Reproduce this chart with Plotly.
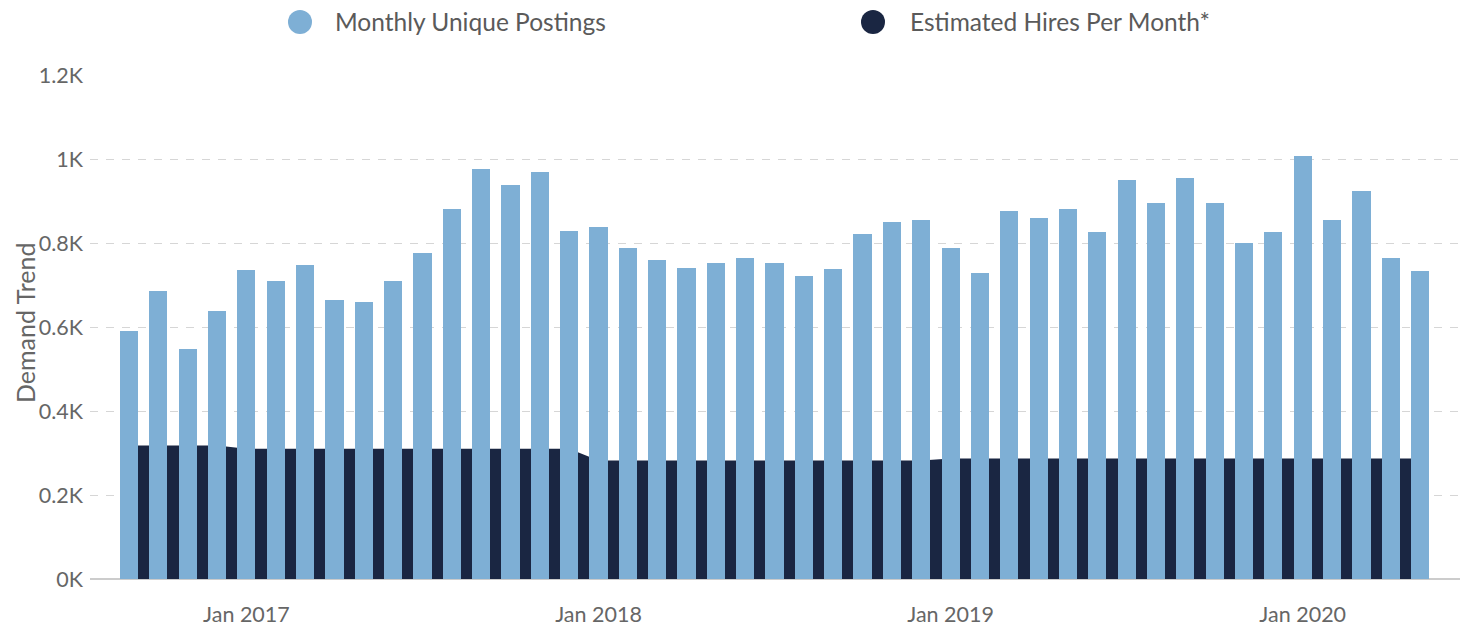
import plotly.graph_objects as go

months = [
    "2016-09", "2016-10", "2016-11", "2016-12",
    "2017-01", "2017-02", "2017-03", "2017-04", "2017-05", "2017-06",
    "2017-07", "2017-08", "2017-09", "2017-10", "2017-11", "2017-12",
    "2018-01", "2018-02", "2018-03", "2018-04", "2018-05", "2018-06",
    "2018-07", "2018-08", "2018-09", "2018-10", "2018-11", "2018-12",
    "2019-01", "2019-02", "2019-03", "2019-04", "2019-05", "2019-06",
    "2019-07", "2019-08", "2019-09", "2019-10", "2019-11", "2019-12",
    "2020-01", "2020-02", "2020-03", "2020-04", "2020-05",
]
postings = [
    590, 686, 548, 638,
    736, 710, 748, 664, 660, 710, 776, 881, 976, 938, 969, 829,
    838, 788, 760, 740, 752, 764, 752, 721, 738, 821, 850, 855,
    788, 729, 876, 860, 881, 826, 950, 895, 955, 895, 800, 826,
    1007, 855, 924, 764, 733,
]
hires = (
    [318] * 4
    + [310] * 12
    + [282] * 12
    + [287] * 17
)
y_tickvals = [0, 200, 400, 600, 800, 1000, 1200]
y_ticktext = ["0K", "0.2K", "0.4K", "0.6K", "0.8K", "1K", "1.2K"]
series_names = ["Monthly Unique Postings", "Estimated Hires Per Month*"]
y_title = "Demand Trend"

LIGHT = "#7eafd5"
DARK = "#1a2642"
FONT = "Lato, 'Open Sans', sans-serif"
TXT = "#666666"

x = list(range(len(months)))
jan_idx = [i for i, m in enumerate(months) if m.endswith("-01")]
jan_text = ["Jan " + months[i][:4] for i in jan_idx]
x_range = [-1.33, len(months) - 1 + 1.36]
y_range = [0, 1200]

fig = go.Figure()
# area on the base axes (drawn underneath)
fig.add_trace(go.Scatter(
    x=x, y=hires, mode="lines", line=dict(width=0, color=DARK),
    fill="tozeroy", fillcolor=DARK, showlegend=False, hoverinfo="skip",
    name=series_names[1], xaxis="x", yaxis="y",
))
# bars on overlay axes (drawn above the area)
fig.add_trace(go.Bar(
    x=x, y=postings, marker=dict(color=LIGHT, line=dict(width=0)),
    width=0.62, showlegend=False, name=series_names[0],
    xaxis="x2", yaxis="y2",
))

# figure geometry (page has an 8px body margin)
W, H = 1455, 619
plot_l, plot_r, plot_t, plot_b = 82, 1452, 67, 571
pw = plot_r - plot_l
ph = plot_b - plot_t
def px_x(p):
    return (p - plot_l) / pw
def px_y(p):
    return (plot_b - p) / ph

legend_items = [(292, 325, LIGHT, series_names[0]), (865, 900, DARK, series_names[1])]
for cx, tx, col, name in legend_items:
    fig.add_shape(
        type="circle", xref="paper", yref="paper",
        xsizemode="pixel", ysizemode="pixel",
        xanchor=px_x(cx), yanchor=px_y(14),
        x0=-12, x1=12, y0=-12, y1=12,
        fillcolor=col, line=dict(width=0),
    )
    fig.add_annotation(
        xref="paper", yref="paper", x=px_x(tx), y=px_y(14),
        xanchor="left", yanchor="middle", showarrow=False,
        text=name, font=dict(family=FONT, size=24.5, color="#5a5a5a"),
    )

fig.add_annotation(
    xref="paper", yref="paper", x=px_x(0), y=px_y(315),
    xanchor="left", yanchor="middle", showarrow=False, textangle=-90,
    text=y_title, font=dict(family=FONT, size=25, color=TXT),
)

fig.update_layout(
    width=W, height=H,
    margin=dict(l=plot_l, r=W - plot_r, t=plot_t, b=H - plot_b),
    plot_bgcolor="white", paper_bgcolor="white",
    font=dict(family=FONT, color=TXT),
    bargap=0,
    showlegend=False,
    xaxis=dict(
        range=x_range, tickvals=jan_idx, ticktext=jan_text,
        tickfont=dict(size=21.5, color=TXT),
        showgrid=False, zeroline=False, showline=False,
        ticks="", ticklabelstandoff=20, automargin=False,
    ),
    yaxis=dict(
        range=y_range, tickvals=y_tickvals, ticktext=y_ticktext,
        tickfont=dict(size=21.5, color=TXT),
        showgrid=True, gridcolor="#d6d6d6", griddash="8px,8px", gridwidth=1,
        zeroline=True, zerolinecolor="#cccccc", zerolinewidth=1.5,
        ticks="", ticklabelstandoff=6, automargin=False,
    ),
    xaxis2=dict(
        range=x_range, overlaying="x", showgrid=False, zeroline=False,
        showticklabels=False, showline=False, ticks="", automargin=False,
    ),
    yaxis2=dict(
        range=y_range, overlaying="y", showgrid=False, zeroline=False,
        showticklabels=False, showline=False, ticks="", automargin=False,
    ),
)
fig.write_html("out.html")
